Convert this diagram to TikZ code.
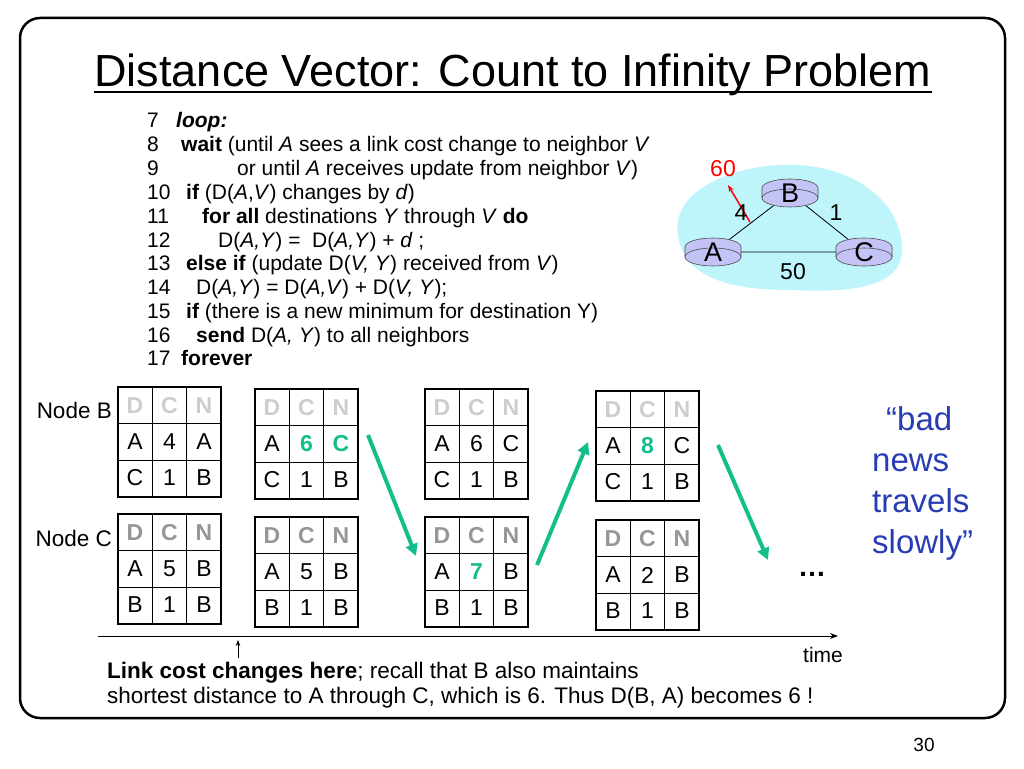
\documentclass[tikz,border=0pt]{standalone}
\usepackage{fontspec}
\setmainfont{Liberation Sans}
\usetikzlibrary{arrows.meta,shapes.geometric}
\definecolor{tealg}{RGB}{20,190,140}
\definecolor{hdrl}{RGB}{205,205,205}
\definecolor{hdrd}{RGB}{150,150,150}
\definecolor{cloud}{RGB}{190,245,250}
\definecolor{router}{RGB}{195,195,245}
\definecolor{badblue}{RGB}{40,60,180}
\tikzset{
  cell/.style={font=\fontsize{23}{23}\selectfont,anchor=center},
  code/.style={anchor=base west,font=\fontsize{21}{21}\selectfont,inner sep=0},
  bigarrow/.style={-{Triangle[length=12pt,width=12pt]},line width=4pt,tealg},
}
\newcommand{\dvtable}[9]{%
  \begin{scope}[shift={(#1,#2)}]
  \draw[line width=0.8pt] (0,36.5)--(103,36.5) (0,73)--(103,73) (34.3,0)--(34.3,110) (68.6,0)--(68.6,110);
  \draw[line width=2.5pt] (0,0) rectangle (103,110);
  \node[cell,#3,font=\fontsize{23}{23}\selectfont\bfseries] at (17,19) {D};
  \node[cell,#3,font=\fontsize{23}{23}\selectfont\bfseries] at (51.5,19) {C};
  \node[cell,#3,font=\fontsize{23}{23}\selectfont\bfseries] at (86,19) {N};
  \node[cell] at (17,55) {#4};
  \node[cell] at (51.5,55) {#5};
  \node[cell] at (86,55) {#6};
  \node[cell] at (17,91) {#7};
  \node[cell] at (51.5,91) {#8};
  \node[cell] at (86,91) {#9};
  \end{scope}}
\newcommand{\gr}[1]{\textcolor{tealg}{\textbf{#1}}}
\begin{document}
\begin{tikzpicture}[x=1pt,y=-1pt]
\useasboundingbox (0,0) rectangle (1024,768);
\draw[line width=2.5pt,rounded corners=20pt] (20,18) rectangle (1005,718);
\node[font=\fontsize{45}{45}\selectfont,anchor=base] (title) at (513,86) {Distance Vector: Count to Infinity Problem};
\draw[line width=1.5pt] (94,92)--(932,92);
% code
\foreach \n/\y in {7/127,8/151,9/175,10/199,11/223,12/247,13/270,14/294,15/318,16/342,17/365}{
  \node[code] (num\n) at (147,\y) {\n};}
\node[code] (l7) at (176,127) {\textbf{\textit{loop:}}};
\node[code] (l8) at (181,151) {\textbf{wait} (until \textit{A} sees a link cost change to neighbor \textit{V}};
\node[code] (l9) at (237,175) {or until \textit{A} receives update from neighbor \textit{V})};
\node[code] (l10) at (186,199) {\textbf{if} (D(\textit{A},\textit{V}) changes by \textit{d})};
\node[code] (l11) at (202,223) {\textbf{for all} destinations \textit{Y} through \textit{V} \textbf{do}};
\node[code] (l12) at (218,247) {D(\textit{A,Y}) =\ \ D(\textit{A,Y}) + \textit{d} ;};
\node[code] (l13) at (186,270) {\textbf{else if} (update D(\textit{V, Y}) received from \textit{V})};
\node[code] (l14) at (196,294) {D(\textit{A,Y}) = D(\textit{A,V}) + D(\textit{V, Y});};
\node[code] (l15) at (186,318) {\textbf{if} (there is a new minimum for destination Y)};
\node[code] (l16) at (196,342) {\textbf{send} D(\textit{A, Y}) to all neighbors};
\node[code] (l17) at (181,365) {\textbf{forever}};
% network
\fill[cloud] (678,235) .. controls (670,190) and (735,165) .. (785,165)
  .. controls (845,163) and (898,195) .. (902,245)
  .. controls (906,292) and (840,292) .. (790,290)
  .. controls (735,290) and (684,280) .. (678,235) -- cycle;
\coordinate (Ac) at (713,252); \coordinate (Bc) at (790,193); \coordinate (Cc) at (864,252);
\draw[line width=0.8pt] (Ac)--(Bc) (Bc)--(Cc) (Ac)--(Cc);
\foreach \p/\l in {Ac/A,Bc/B,Cc/C}{
  \fill[router,draw=black!70,line width=0.6pt] ([xshift=-28pt,yshift=-5pt]\p) -- ([xshift=-28pt,yshift=5pt]\p) arc[start angle=180,end angle=360,x radius=28pt,y radius=-9pt] -- ([xshift=28pt,yshift=-5pt]\p) arc[start angle=0,end angle=180,x radius=28pt,y radius=-9pt] -- cycle;
  \draw[black!70,line width=0.6pt] ([xshift=-28pt,yshift=-5pt]\p) arc[start angle=180,end angle=360,x radius=28pt,y radius=-9pt];
  \node[font=\fontsize{27}{27}\selectfont] (r\l) at (\p) {\l};
}
\coordinate (redS) at (750,222); \coordinate (redE) at (728,185);
\draw[red,line width=1.5pt,-{Stealth[length=7pt]}] (redS)--(redE);
\node[red,font=\fontsize{23}{23}\selectfont] (n60) at (723,169) {60};
\node[font=\fontsize{23}{23}\selectfont] (n4) at (741,213) {4};
\node[font=\fontsize{23}{23}\selectfont] (n1) at (836,213) {1};
\node[font=\fontsize{23}{23}\selectfont] (n50) at (793,272) {50};
% tables
\node[anchor=east,font=\fontsize{22.5}{22.5}\selectfont,inner sep=0] (nb) at (112,410) {Node B};
\node[anchor=east,font=\fontsize{22.5}{22.5}\selectfont,inner sep=0] (nc) at (112,538) {Node C};
\dvtable{118}{387}{hdrl}{A}{4}{A}{C}{1}{B}
\dvtable{255}{389}{hdrl}{A}{\gr{6}}{\gr{C}}{C}{1}{B}
\dvtable{425}{389}{hdrl}{A}{6}{C}{C}{1}{B}
\dvtable{596}{391}{hdrl}{A}{\gr{8}}{C}{C}{1}{B}
\dvtable{118}{514}{hdrd}{A}{5}{B}{B}{1}{B}
\dvtable{255}{517}{hdrd}{A}{5}{B}{B}{1}{B}
\dvtable{425}{517}{hdrd}{A}{\gr{7}}{B}{B}{1}{B}
\dvtable{596}{520}{hdrd}{A}{2}{B}{B}{1}{B}
% teal arrows
\coordinate (a1s) at (368,435); \coordinate (a1e) at (416,556);
\coordinate (a2s) at (537,565); \coordinate (a2e) at (588,442);
\coordinate (a3s) at (718,445); \coordinate (a3e) at (768,560);
\draw[bigarrow] (a1s)--(a1e);
\draw[bigarrow] (a2s)--(a2e);
\draw[bigarrow] (a3s)--(a3e);
\node[font=\fontsize{28}{28}\selectfont\bfseries] (dots) at (812,574) {\ldots};
% bad news
\node[badblue,font=\fontsize{33}{41}\selectfont,align=left,anchor=north west,inner sep=0] (bad) at (872,406) {\hspace{14pt}“bad\\news\\travels\\slowly”};
% time axis
\coordinate (t0) at (98,636); \coordinate (t1) at (838,636);
\draw[line width=0.8pt,-{Stealth[length=8pt]}] (t0)--(t1);
\node[font=\fontsize{21}{21}\selectfont] (time) at (823,655) {time};
\coordinate (u0) at (238,658); \coordinate (u1) at (238,640);
\draw[line width=0.8pt,-{Stealth[length=6pt]}] (u0)--(u1);
\node[anchor=base west,font=\fontsize{22.5}{23}\selectfont,inner sep=0] (cap1) at (107,678) {\textbf{Link cost changes here}; recall that B also maintains};
\node[anchor=base west,font=\fontsize{22.5}{23}\selectfont,inner sep=0] (cap2) at (107,703) {shortest distance to A through C, which is 6. Thus D(B, A) becomes 6 !};
\node[font=\fontsize{19}{19}\selectfont] (pg) at (924,745) {30};
\end{tikzpicture}
\end{document}
